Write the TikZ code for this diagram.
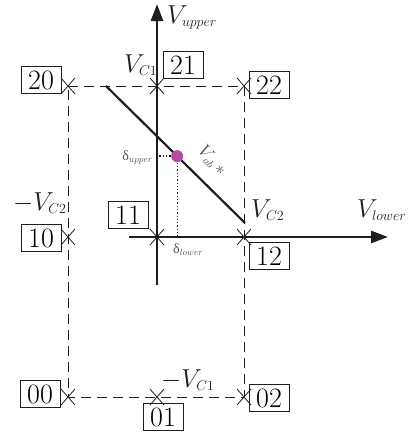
\RequirePackage{fix-cm}
\documentclass[tikz,border=0pt]{standalone}
\usepackage{fontspec}
\newfontfamily\grk{Liberation Serif}
\usetikzlibrary{arrows.meta,calc}
\definecolor{dotc}{RGB}{181,75,163}
\definecolor{lbl}{RGB}{80,80,80}
\definecolor{ink}{RGB}{30,30,30}
\newcommand\sbs[1]{\hbox{\fontsize{14}{16}\selectfont$#1$}}
\newcommand\sbsm[1]{\hbox{\fontsize{9}{10}\selectfont$#1$}}
\newcommand\sbsv[1]{\hbox{\fontsize{11}{12}\selectfont$#1$}}
\begin{document}
\begin{tikzpicture}[x=1pt,y=-1pt,
  box/.style={draw=ink, line width=0.8pt, minimum width=40pt, minimum height=27pt, inner sep=0pt, font=\fontsize{28}{30}\selectfont},
  big/.style={font=\fontsize{26}{28}\selectfont, inner sep=0pt, text=ink},
  small/.style={font=\fontsize{14}{16}\selectfont, text=lbl, inner sep=0pt},
  dashline/.style={draw=ink, dash pattern=on 10pt off 6pt, line width=0.8pt},
  axisline/.style={draw=ink, line width=2.6pt, -{Triangle[length=17pt,width=12pt]}},
  crossmark/.style={draw=ink, line width=0.8pt}]
\useasboundingbox (0,0) rectangle (412,434);

% grid points
\coordinate (p20) at (68,86);
\coordinate (p21) at (157,86);
\coordinate (p22) at (244,86);
\coordinate (p10) at (68,237);
\coordinate (p11) at (157,237);
\coordinate (p12) at (244,237);
\coordinate (p00) at (68,397);
\coordinate (p01) at (157,397);
\coordinate (p02) at (244,397);

% dashed rectangle
\draw[dashline] (p20) -- (p22) -- (p02) -- (p00) -- cycle;

% axes
\coordinate (vbot) at (157,285);
\coordinate (vtop) at (157,4);
\coordinate (hleft) at (129,237);
\coordinate (hright) at (388,237);
\draw[axisline] (vbot) -- (vtop);
\draw[axisline] (hleft) -- (hright);

% diagonal line
\coordinate (d1) at (106,86);
\coordinate (d2) at (245,223);
\draw[ink, line width=2.2pt] (d1) -- (d2);

% operating point
\coordinate (dot) at ($(d1)!0.512!(d2)$);
\draw[ink, dotted, line width=1.3pt] (dot) -- (dot -| vbot);
\draw[ink, dotted, line width=1.3pt] (dot) -- (dot |- hleft);
\node[circle, fill=dotc, minimum size=12pt, inner sep=0pt] (dotn) at (dot) {};

% cross marks
\foreach \p in {p20,p21,p22,p10,p11,p12,p00,p01,p02}{
  \draw[crossmark] ([shift={(-7,-8)}]\p) -- ([shift={(7,8)}]\p);
  \draw[crossmark] ([shift={(-7,8)}]\p) -- ([shift={(7,-8)}]\p);
}

% state boxes
\node[box] (b20) at (41,80) {20};
\node[box] (b21) at (183,65) {21};
\node[box] (b22) at (269,85) {22};
\node[box] (b11) at (128,215) {11};
\node[box] (b10) at (41,238) {10};
\node[box] (b12) at (269,256) {12};
\node[box] (b00) at (40,394) {00};
\node[box] (b01) at (163,417) {01};
\node[box] (b02) at (269,398) {02};

% axis and level labels
\node[big, anchor=base west] (lvu) at (167,23) {$V_{\sbs{upper}}$};
\node[big, anchor=base west] (lvl) at (357,217) {$V_{\sbs{lower}}$};
\node[big, anchor=base west] (lc1) at (124,72) {$V_{\sbs{C1}}$};
\node[big, anchor=base west] (lc2) at (251,217) {$V_{\sbs{C2}}$};
\node[big, anchor=base west] (lmc2) at (13,210) {$-V_{\sbs{C2}}$};
\node[big, anchor=base west] (lmc1) at (161,387) {$-V_{\sbs{C1}}$};

% small labels
\node[small, anchor=base east] (du) at (153,160) {{\grk δ}$_{\sbsm{upper}}$};
\node[small, anchor=base west] (dl) at (173,253) {{\grk δ}$_{\sbsm{lower}}$};
\node[small, font=\fontsize{18}{20}\selectfont, rotate=-48] (vab) at (212,161) {$V_{\sbsv{ab}}\,{*}$};
\end{tikzpicture}
\end{document}
